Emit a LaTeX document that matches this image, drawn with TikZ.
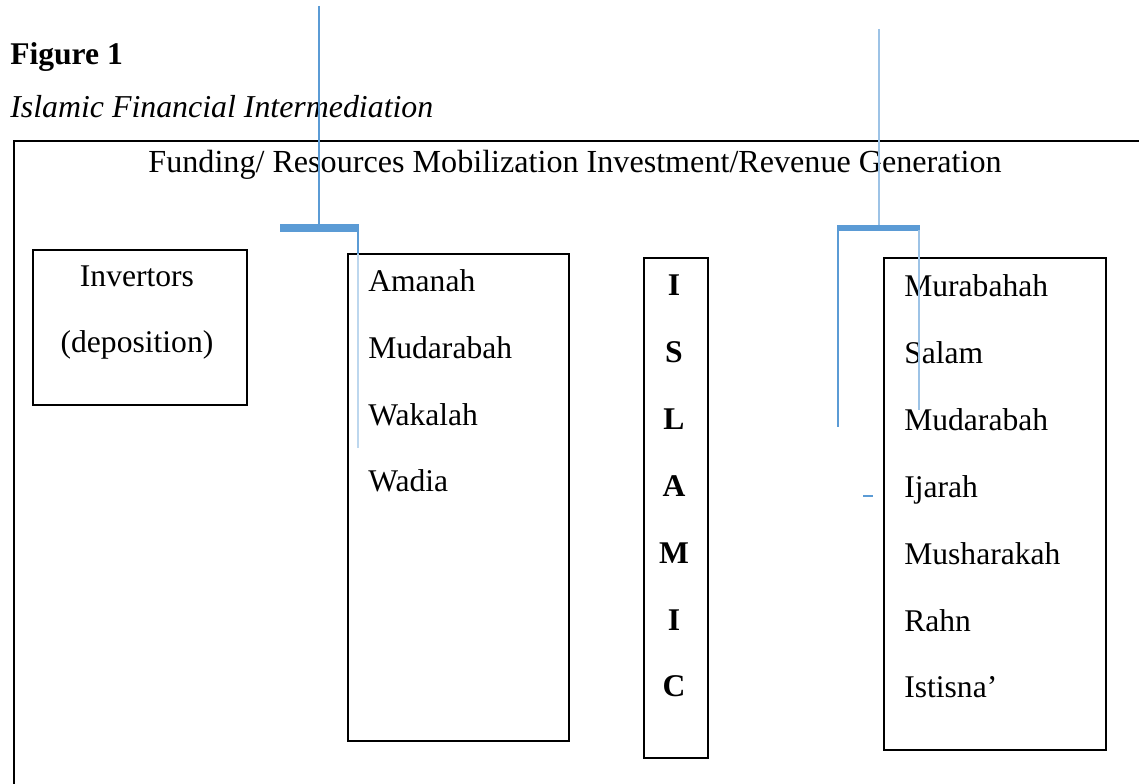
\documentclass[tikz,border=0pt]{standalone}
\usepackage{fontspec}
\setmainfont{Liberation Serif}
\definecolor{bluebar}{HTML}{5B9BD5}
\definecolor{bluelight}{HTML}{BDD7EE}
\definecolor{bluemid}{HTML}{9DC3E6}
\begin{document}
\begin{tikzpicture}[x=0.75pt,y=-0.75pt,
  txt/.style={inner sep=0pt,anchor=base west,font=\fontsize{23.7}{28}\selectfont},
  ctxt/.style={inner sep=0pt,anchor=base,font=\fontsize{23.7}{28}\selectfont},
  btxt/.style={inner sep=0pt,anchor=base,font=\fontsize{23.7}{28}\selectfont\bfseries},
  boxline/.style={draw=black,line width=1.8pt},
  thickbar/.style={draw=bluebar,line width=5.5pt},
  thinblue/.style={draw=bluebar,line width=1pt},
  lightblue/.style={draw=bluelight,line width=1pt}]
\useasboundingbox (0,0) rectangle (1139,784);
% headings
\node[txt,font=\fontsize{23.7}{28}\selectfont\bfseries] (fig) at (10,65) {Figure 1};
\node[txt,font=\fontsize{23.9}{28}\selectfont\itshape] (cap) at (10,118) {Islamic Financial Intermediation};
% outer frame
\coordinate (f1) at (14,784);
\coordinate (f2) at (14,141);
\coordinate (f3) at (1139,141);
\draw[boxline] (f1) -- (f2) -- (f3);
\node[ctxt,font=\fontsize{24.1}{28}\selectfont] (title) at (575,173) {Funding/ Resources Mobilization Investment/Revenue Generation};
% boxes
\draw[boxline] (33,250) rectangle (247,405);
\node[ctxt] (inv1) at (137,287) {Invertors};
\node[ctxt] (inv2) at (137,353) {(deposition)};
\draw[boxline] (348,254) rectangle (569,741);
\node[txt] (a1) at (368,292) {Amanah};
\node[txt] (a2) at (368,358.5) {Mudarabah};
\node[txt] (a3) at (368,425) {Wakalah};
\node[txt] (a4) at (368,491.5) {Wadia};
\draw[boxline] (644,258) rectangle (708,758);
\foreach \l [count=\i] in {I,S,L,A,M,I,C}
  \node[btxt] (isl\i) at (674,{296+66.8*(\i-1)}) {\l};
\draw[boxline] (884,258) rectangle (1106,750);
\foreach \l [count=\i] in {Murabahah,Salam,Mudarabah,Ijarah,Musharakah,Rahn,Istisna’}
  \node[txt] (b\i) at (904,{297+66.8*(\i-1)}) {\l};
% blue artifacts left
\coordinate (l1) at (319,6);
\coordinate (l2) at (319,226);
\draw[thinblue] (l1) -- (l2);
\coordinate (lb1) at (280,228);
\coordinate (lb2) at (358.5,228);
\draw[thickbar] (lb1) -- (lb2);
\coordinate (lv1) at (358,230);
\coordinate (lv2) at (358,254);
\coordinate (lv3) at (358,448);
\draw[thinblue] (lv1) -- (lv2);
\draw[lightblue] (lv2) -- (lv3);
% blue artifacts right
\coordinate (r1) at (879,29);
\coordinate (r2) at (879,225);
\draw[draw=bluemid,line width=1pt] (r1) -- (r2);
\coordinate (rb1) at (837,228);
\coordinate (rb2) at (920,228);
\draw[thickbar,line width=4.5pt] (rb1) -- (rb2);
\coordinate (rl1) at (838,230);
\coordinate (rl2) at (838,427);
\draw[thinblue,line width=1.3pt] (rl1) -- (rl2);
\coordinate (rr1) at (919,230);
\coordinate (rr2) at (919,410);
\draw[draw=bluemid,line width=1pt] (rr1) -- (rr2);
\coordinate (d1) at (863,496);
\coordinate (d2) at (873,496);
\draw[thinblue] (d1) -- (d2);
\end{tikzpicture}
\end{document}
